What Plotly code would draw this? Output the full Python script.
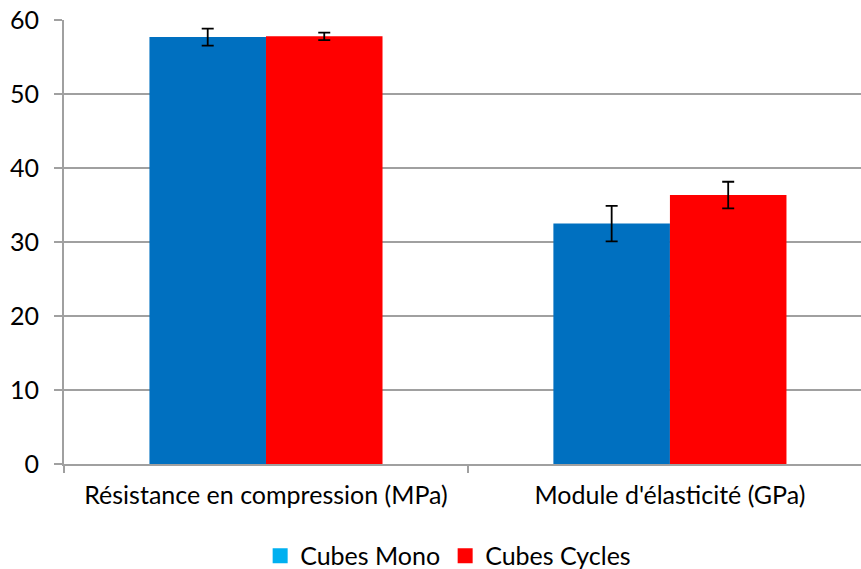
import plotly.graph_objects as go

categories = ["Résistance en compression (MPa)", "Module d'élasticité (GPa)"]
mono_values = [57.7, 32.5]
mono_err = [1.15, 2.4]
cycles_values = [57.8, 36.35]
cycles_err = [0.5, 1.8]
series_names = ["Cubes Mono", "Cubes Cycles"]
bar_colors = ["#0070C0", "#FF0000"]
legend_colors = ["#00B0F0", "#FF0000"]
y_ticks = [0, 10, 20, 30, 40, 50, 60]

FONT = "Lato"
AXIS_GRAY = "#A0A0A0"
fig = go.Figure()
for vals, errs, col in [(mono_values, mono_err, bar_colors[0]), (cycles_values, cycles_err, bar_colors[1])]:
    fig.add_trace(go.Bar(
        x=categories, y=vals, marker_color=col, marker_line_width=0, showlegend=False,
        error_y=dict(type="data", array=errs, color="black", thickness=1.8, width=6),
    ))
for name, col in zip(series_names, legend_colors):
    fig.add_trace(go.Scatter(
        x=[None], y=[None], mode="markers", name=name,
        marker=dict(symbol="square", size=15, color=col),
    ))

fig.update_layout(
    width=861, height=569,
    margin=dict(l=64, r=0, t=20, b=105, autoexpand=False),
    paper_bgcolor="white", plot_bgcolor="white",
    barmode="group", bargap=0.423, bargroupgap=0,
    font=dict(family=FONT, size=25, color="black"),
    showlegend=True,
    legend=dict(orientation="h", x=0.482, xanchor="center", y=-0.207, yanchor="middle",
                font=dict(size=25), itemsizing="trace", tracegroupgap=0, itemwidth=30),
    xaxis=dict(
        range=[-0.5, 1.473], showline=True, linecolor=AXIS_GRAY, linewidth=2,
        ticks="outside", tickson="boundaries", ticklen=7, tickcolor=AXIS_GRAY,
        tickwidth=2, showgrid=False, zeroline=False, automargin=False,
        ticklabelstandoff=8, ticklabeloverflow="allow",
    ),
    yaxis=dict(
        range=[0, 60.01], tickvals=y_ticks, showline=True, linecolor=AXIS_GRAY, linewidth=2,
        ticks="outside", ticklen=8, tickcolor=AXIS_GRAY, tickwidth=2,
        showgrid=True, gridcolor=AXIS_GRAY, gridwidth=1.5, zeroline=False, automargin=False,
        ticklabelstandoff=10, ticklabeloverflow="allow",
    ),
)
fig.write_html("out.html", config={"displayModeBar": False},
               post_script="document.body.style.margin='0';")
